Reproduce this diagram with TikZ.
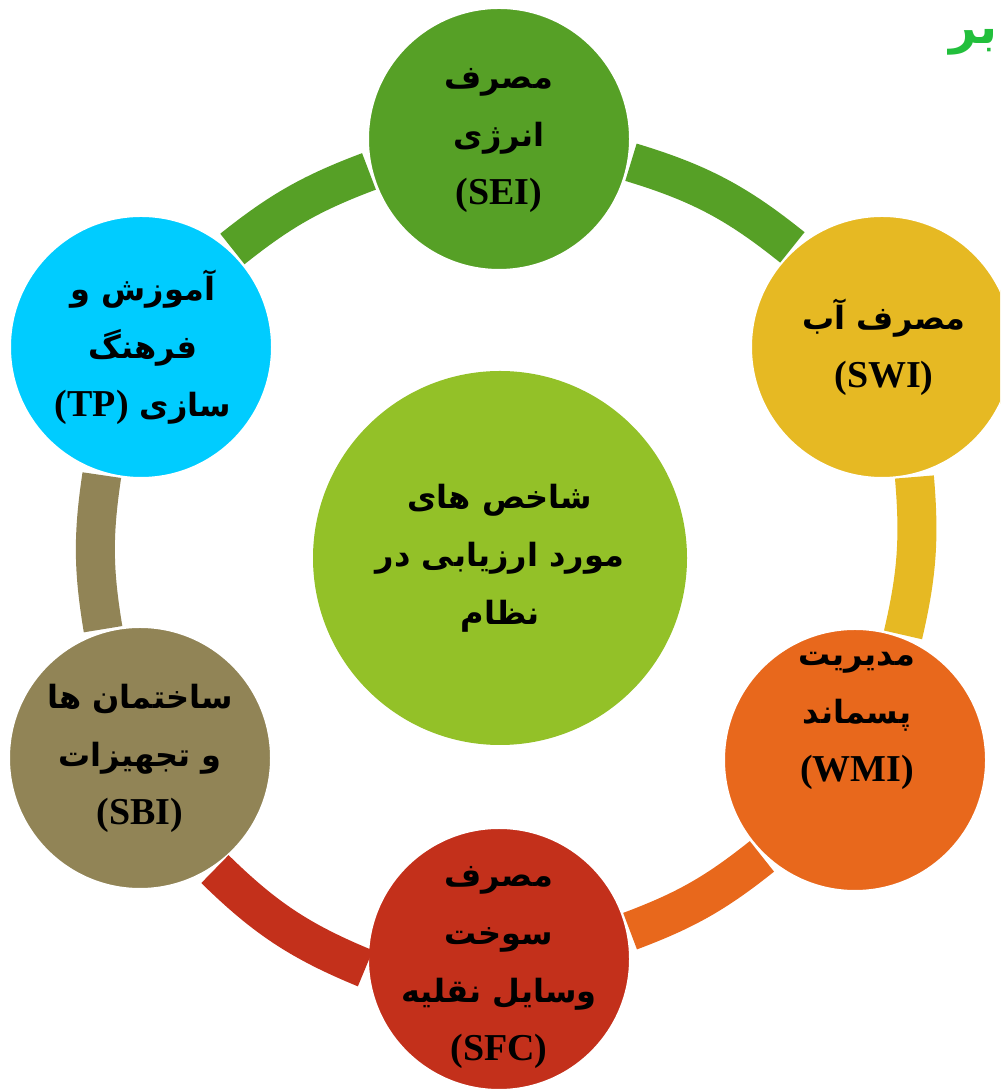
\documentclass[tikz,border=0pt]{standalone}
\usepackage{fontspec}
\setmainfont{Liberation Serif}
\newfontfamily\arabicfont[Script=Arabic]{DejaVu Sans}
\TeXXeTstate=1
\newcommand\pers[1]{{\arabicfont\bfseries\beginR #1\endR}}
\newcommand\latn[1]{{\rmfamily\bfseries\fontsize{19}{29}\selectfont #1}}
\definecolor{csei}{HTML}{56A026}
\definecolor{cswi}{HTML}{E6B923}
\definecolor{cwmi}{HTML}{E8681C}
\definecolor{csfc}{HTML}{C3301B}
\definecolor{csbi}{HTML}{918456}
\definecolor{ctp}{HTML}{00CCFF}
\definecolor{cctr}{HTML}{93C128}
\definecolor{ctitle}{HTML}{22BF3C}
\tikzset{
  bub/.style={circle, minimum size=131pt, inner sep=0pt, outer sep=1.5pt,
    draw=white, line width=1pt},
  txt/.style={inner sep=0pt, align=center, font=\fontsize{16}{29}\selectfont\bfseries},
  band/.style={line width=19.5pt, line cap=butt},
}
\begin{document}
\begin{tikzpicture}[x=0.5pt,y=0.5pt]
\useasboundingbox (0,0) rectangle (1000,1090);
\fill[white] (0,0) rectangle (1000,1090);
\clip (0,0) rectangle (1000,1090);
% centre
\node[bub, draw=none, minimum size=187pt, fill=cctr] (ctr) at (500,532) {};
\node[txt] (ctrtxt) at (ctr) {\pers{شاخص های}\\\pers{مورد ارزیابی در}\\\pers{نظام}};
% outer circles
\node[bub, fill=csei] (sei) at (499,951) {};
\node[bub, fill=cswi] (swi) at (882,743) {};
\node[bub, fill=cwmi] (wmi) at (855,330) {};
\node[bub, fill=csfc] (sfc) at (499,131) {};
\node[bub, fill=csbi] (sbi) at (140,332) {};
\node[bub, fill=ctp] (tp) at (141,743) {};
% texts
\node[txt] (seitxt) at ([yshift=-1pt]sei.center) {\pers{مصرف}\\\pers{انرژی}\\\latn{(SEI)}};
\node[txt] (switxt) at ([xshift=1pt]swi.center) {\pers{مصرف آب}\\\latn{(SWI)}};
\node[txt] (wmitxt) at ([xshift=1pt,yshift=19.5pt]wmi.center) {\pers{مدیریت}\\\pers{پسماند}\\\latn{(WMI)}};
\node[txt] (sfctxt) at ([yshift=-4.5pt]sfc.center) {\pers{مصرف}\\\pers{سوخت}\\\pers{وسایل نقلیه}\\\latn{(SFC)}};
\node[txt] (sbitxt) at (sbi.center) {\pers{ساختمان ها}\\\pers{و تجهیزات}\\\latn{(SBI)}};
\node[txt] (tptxt) at ([xshift=1pt]tp.center) {\pers{آموزش و}\\\pers{فرهنگ}\\\pers{سازی \beginL\latn{(TP)}\endL}};
% ring bands
\draw[band, csei] (tp.47) to[bend left=9] (sei.194);
\draw[band, csei] (sei.-10) to[bend left=11] (swi.132);
\draw[band, cswi] (swi.-76) to[bend left=9] (wmi.69);
\draw[band, cwmi] (wmi.226) to[bend left=9] (sfc.12);
\draw[band, csfc] (sfc.184) to[bend left=11] (sbi.-56);
\draw[band, csbi] (sbi.106) to[bend left=9] (tp.253);
% title fragment
\node[anchor=base east, inner sep=0pt, text=ctitle,
  font=\fontsize{24}{24}\selectfont] (title) at (998,1046) {\pers{بر}};
\end{tikzpicture}
\end{document}
